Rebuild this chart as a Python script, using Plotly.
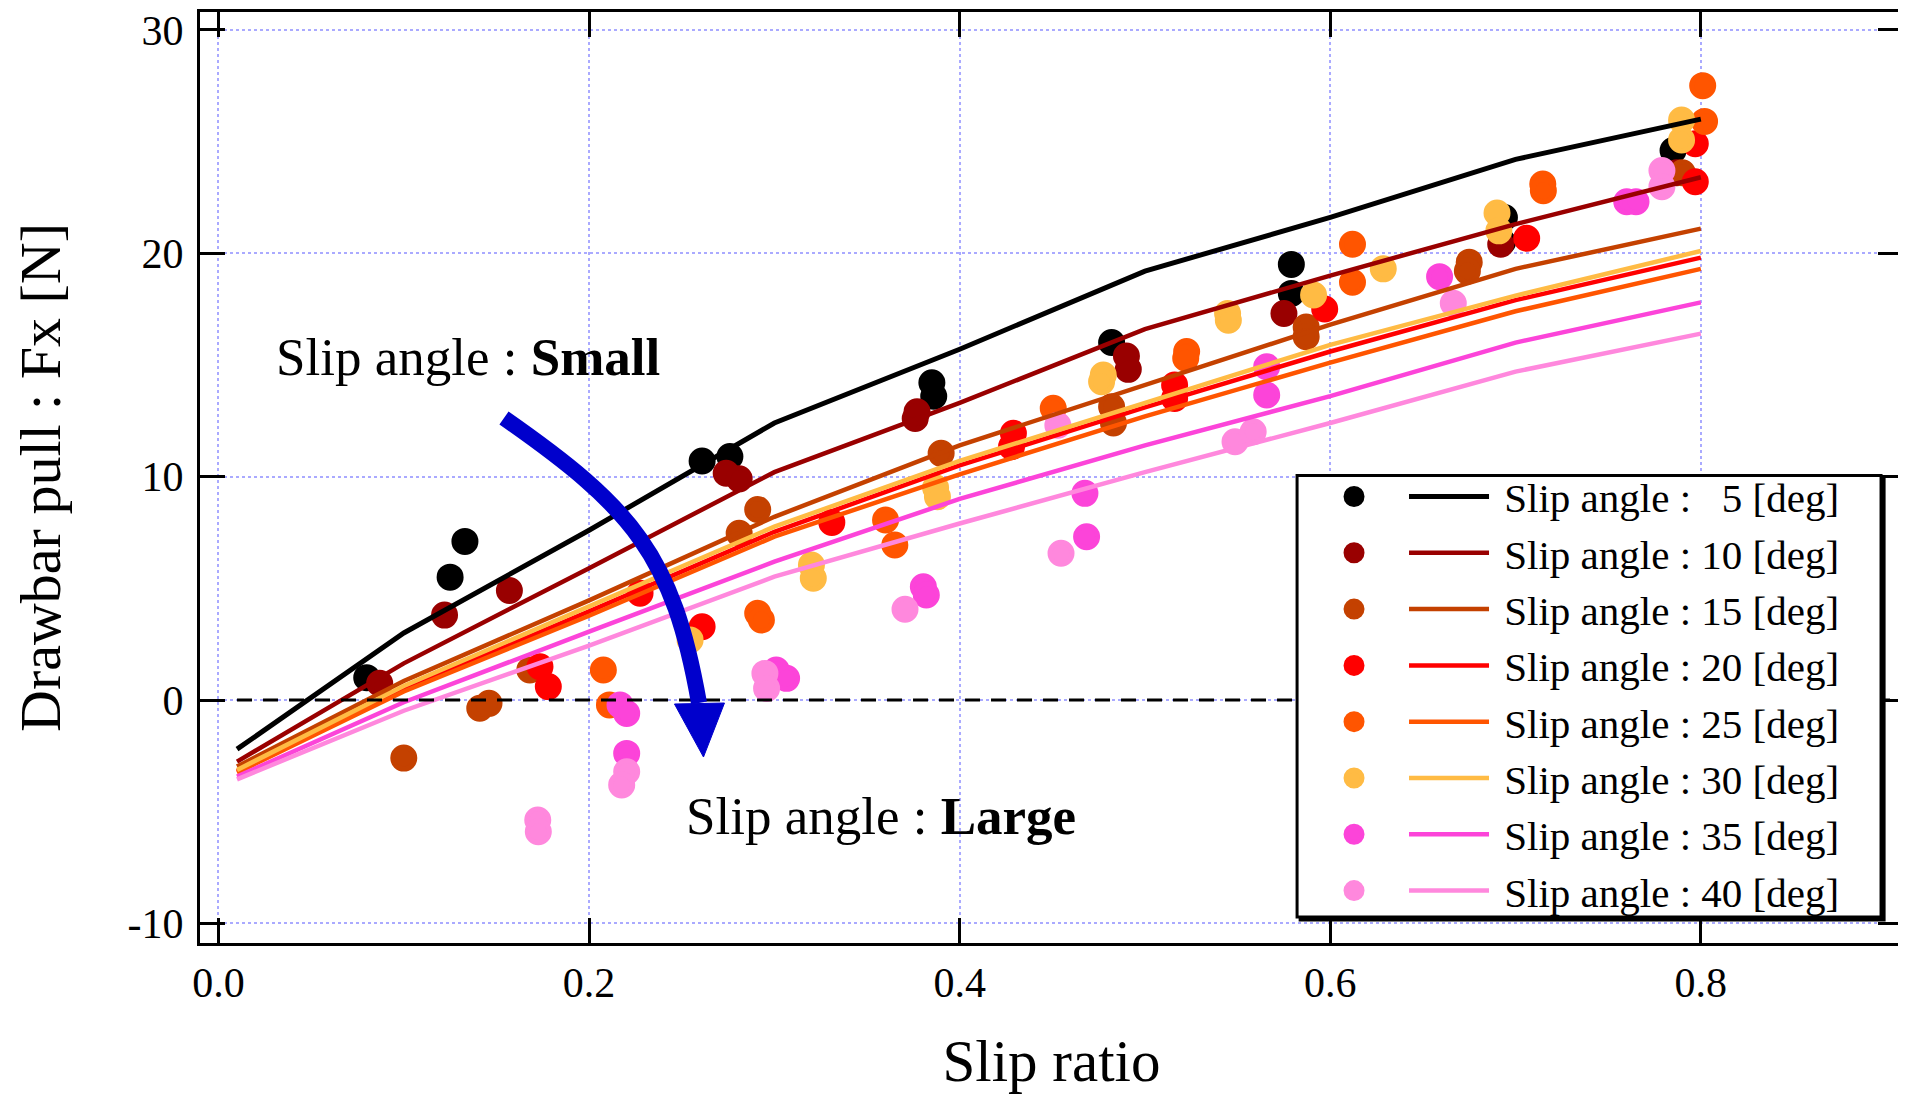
import plotly.graph_objects as go

# ---------------- data ----------------
slip_angles = [5, 10, 15, 20, 25, 30, 35, 40]
colors = ["#000000", "#990000", "#C44100", "#FF0000", "#FF5500", "#FFBB44", "#FC44D9", "#FF88DD"]

model_x = [0.01, 0.1, 0.2, 0.3, 0.4, 0.5, 0.6, 0.7, 0.8]
fit_5 = [-2.2, 3.0, 7.6, 12.4, 15.7, 19.2, 21.6, 24.2, 26.0]
fit_10 = [-2.76, 1.64, 5.9, 10.2, 13.3, 16.6, 19.0, 21.3, 23.4]
fit_15 = [-2.98, 0.85, 4.46, 8.2, 11.4, 14.1, 16.8, 19.3, 21.1]
fit_20 = [-3.2, 0.48, 3.97, 7.53, 10.5, 13.1, 15.6, 17.9, 19.8]
fit_25 = [-3.25, 0.38, 3.77, 7.31, 10.1, 12.7, 15.1, 17.4, 19.3]
fit_30 = [-3.13, 0.63, 4.19, 7.76, 10.7, 13.3, 15.9, 18.1, 20.1]
fit_35 = [-3.43, -0.10, 3.06, 6.19, 9.0, 11.4, 13.6, 16.0, 17.8]
fit_40 = [-3.55, -0.48, 2.43, 5.52, 7.9, 10.2, 12.4, 14.7, 16.4]

exp_5_x = [0.080, 0.125, 0.133, 0.261, 0.276, 0.385, 0.386, 0.482, 0.579, 0.579, 0.693, 0.694, 0.785]
exp_5_y = [1.0, 5.5, 7.1, 10.7, 10.9, 14.2, 13.6, 16.0, 19.5, 18.2, 20.5, 21.6, 24.6]
exp_10_x = [0.087, 0.122, 0.157, 0.274, 0.281, 0.376, 0.377, 0.490, 0.491, 0.575, 0.692, 0.787]
exp_10_y = [0.75, 3.8, 4.9, 10.15, 9.9, 12.6, 12.9, 15.4, 14.8, 17.3, 20.4, 23.6]
exp_15_x = [0.100, 0.141, 0.146, 0.168, 0.281, 0.291, 0.390, 0.482, 0.483, 0.587, 0.587, 0.675, 0.674, 0.790]
exp_15_y = [-2.6, -0.37, -0.15, 1.34, 7.46, 8.53, 11.04, 13.13, 12.4, 16.7, 16.26, 19.6, 19.2, 23.6]
exp_20_x = [0.1735, 0.178, 0.2275, 0.261, 0.331, 0.429, 0.428, 0.516, 0.516, 0.597, 0.706, 0.797, 0.797]
exp_20_y = [1.49, 0.6, 4.78, 3.28, 7.95, 11.94, 11.34, 14.1, 13.5, 17.5, 20.67, 24.9, 23.2]
exp_25_x = [0.2077, 0.211, 0.291, 0.293, 0.360, 0.365, 0.4505, 0.5225, 0.522, 0.612, 0.612, 0.7147, 0.715, 0.801, 0.802]
exp_25_y = [1.34, -0.22, 3.88, 3.58, 8.06, 6.94, 13.06, 15.6, 15.3, 20.4, 18.7, 23.1, 22.8, 27.5, 25.9]
exp_30_x = [0.2545, 0.320, 0.321, 0.387, 0.388, 0.4775, 0.4766, 0.5446, 0.545, 0.591, 0.6286, 0.690, 0.691, 0.7896, 0.7896]
exp_30_y = [2.69, 6.04, 5.45, 9.5, 9.1, 14.55, 14.25, 17.3, 17.0, 18.13, 19.3, 21.8, 21.0, 25.96, 25.07]
exp_35_x = [0.2167, 0.2203, 0.2203, 0.301, 0.3066, 0.3804, 0.382, 0.4676, 0.4685, 0.5657, 0.5657, 0.659, 0.760, 0.765]
exp_35_y = [-0.22, -0.6, -2.39, 1.34, 0.97, 5.07, 4.7, 9.25, 7.31, 14.92, 13.65, 18.95, 22.3, 22.3]
exp_40_x = [0.1723, 0.1726, 0.2203, 0.2176, 0.2949, 0.2958, 0.3705, 0.453, 0.4547, 0.5486, 0.5584, 0.6664, 0.779, 0.779]
exp_40_y = [-5.37, -5.9, -3.21, -3.8, 1.19, 0.52, 4.06, 12.3, 6.57, 11.56, 12.01, 17.76, 23.7, 22.98]

fits = [fit_5, fit_10, fit_15, fit_20, fit_25, fit_30, fit_35, fit_40]
exps_x = [exp_5_x, exp_10_x, exp_15_x, exp_20_x, exp_25_x, exp_30_x, exp_35_x, exp_40_x]
exps_y = [exp_5_y, exp_10_y, exp_15_y, exp_20_y, exp_25_y, exp_30_y, exp_35_y, exp_40_y]

x_ticks = [0.0, 0.2, 0.4, 0.6, 0.8]
y_ticks = [-10, 0, 10, 20, 30]

FONT = "Liberation Serif"
LEGEND_SIZE = 41


def label(a):
    num = str(a) if a >= 10 else "\u00a0\u00a0" + str(a)
    return "\u00a0Slip angle : " + num + " [deg]"


fig = go.Figure()

# measured points (drawn first, below the lines)
for a, c, xs, ys in zip(slip_angles, colors, exps_x, exps_y):
    fig.add_trace(go.Scatter(
        x=xs, y=ys, mode="markers", name="\u00a0", legend="legend",
        hovertemplate="Slip angle %d deg<br>%%{x}, %%{y}<extra></extra>" % a,
        marker=dict(size=22, color=c, line=dict(color=c, width=5)),
    ))

# model curves
for a, c, ys in zip(slip_angles, colors, fits):
    fig.add_trace(go.Scatter(
        x=model_x, y=ys, mode="lines", name=label(a), legend="legend2",
        line=dict(color=c, width=5 if a == 5 else 4.5),
    ))

axis_common = dict(
    showline=True, linecolor="black", linewidth=3, mirror="ticks",
    ticks="inside", ticklen=25, tickwidth=3, tickcolor="black",
    showgrid=True, gridcolor="#AAAAFF", gridwidth=1.5, griddash="dot",
    zeroline=False, automargin=False, ticklabeloverflow="allow",
    tickfont=dict(family=FONT, size=42, color="black"),
)

# the page body adds an 8px offset, so the figure is 8px smaller than the window
fig.update_layout(
    width=1898, height=1086,
    margin=dict(l=192, r=3, t=4, b=151),
    paper_bgcolor="white", plot_bgcolor="white",
    font=dict(family=FONT, color="black"),
    xaxis=dict(range=[-0.00998, 0.9091], tickvals=x_ticks,
               ticktext=["%.1f" % v for v in x_ticks],
               title=dict(text="Slip ratio", font=dict(family=FONT, size=59), standoff=39),
               ticklabelstandoff=1, **axis_common),
    yaxis=dict(range=[-10.877, 30.797], tickvals=y_ticks,
               ticktext=[str(v) for v in y_ticks],
               title=dict(text="Drawbar pull : Fx [N]", font=dict(family=FONT, size=58), standoff=54),
               ticklabelstandoff=5, **axis_common),
    legend=dict(x=0.6659, y=0.5152, xanchor="left", yanchor="top",
                bgcolor="rgba(0,0,0,0)", borderwidth=0,
                font=dict(family=FONT, size=LEGEND_SIZE, color="black")),
    legend2=dict(x=0.7070, y=0.5152, xanchor="left", yanchor="top",
                 bgcolor="rgba(0,0,0,0)", borderwidth=0, itemwidth=80,
                 font=dict(family=FONT, size=LEGEND_SIZE, color="black")),
    showlegend=True,
)

# zero reference line
fig.add_shape(type="line", xref="x", yref="y", x0=0.01, x1=0.905, y0=0, y1=0,
              line=dict(color="black", width=3, dash="15px,11px"))

# legend frame (with a slight shadow on the right/bottom edges)
fig.add_shape(type="rect", xref="paper", yref="paper", x0=0.6460, x1=0.9889, y0=0.0247, y1=0.4989,
              fillcolor="black", line=dict(color="black", width=3), layer="above")
fig.add_shape(type="rect", xref="paper", yref="paper", x0=0.6442, x1=0.9871, y0=0.0279, y1=0.5021,
              fillcolor="white", line=dict(color="black", width=3), layer="above")

# curved blue arrow
fig.add_shape(type="path", xref="x", yref="y",
              path="M 0.15408,12.623 C 0.22369,8.594 0.24528,6.491 0.25931,-0.134",
              line=dict(color="#0000CC", width=16))
fig.add_shape(type="path", xref="x", yref="y",
              path="M 0.24609,-0.179 L 0.27307,-0.134 L 0.26174,-2.552 Z",
              fillcolor="#0000CC", line=dict(color="#0000CC", width=1))

fig.add_annotation(x=0.030, y=15.35, xref="x", yref="y", xanchor="left", yanchor="middle",
                   text="Slip angle : <b>Small</b>", showarrow=False,
                   font=dict(family=FONT, size=53, color="black"))
fig.add_annotation(x=0.2512, y=-5.19, xref="x", yref="y", xanchor="left", yanchor="middle",
                   text="Slip angle : <b>Large</b>", showarrow=False,
                   font=dict(family=FONT, size=53, color="black"))

fig.write_html("out.html")
